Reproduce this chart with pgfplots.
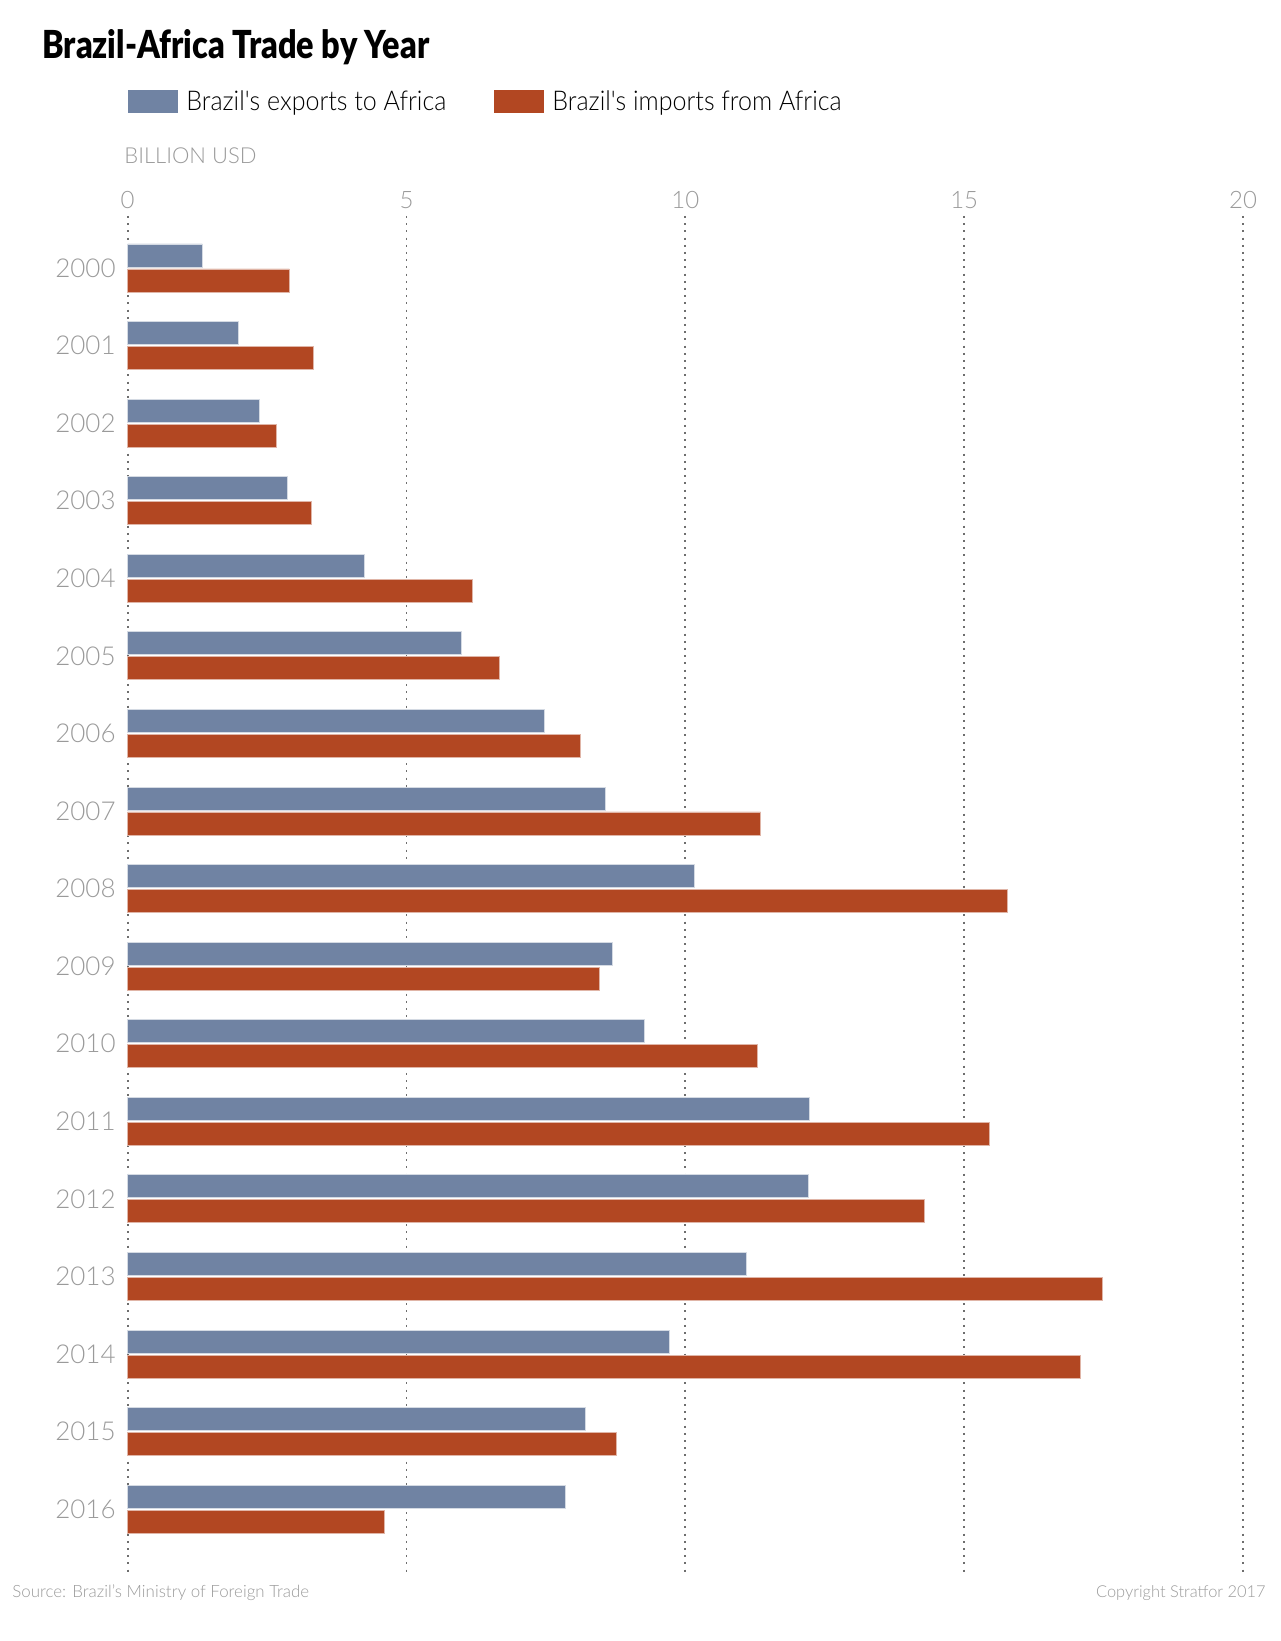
\documentclass[border=0pt]{standalone}
\usepackage{pgfplots}
\pgfplotsset{compat=1.18}
\usepackage{pgfplotstable}
\usepackage{fontspec}
\setmainfont{Lato}[UprightFont={* Light}, BoldFont={* Bold}]
\newfontfamily\titlefont{Lato}[UprightFont={* Black}, FakeStretch=0.84]
\newfontfamily\legfont{Lato}[UprightFont={* Light}, FakeStretch=0.92]

\definecolor{expcol}{HTML}{7083A3}
\definecolor{impcol}{HTML}{B24722}
\definecolor{lblgray}{HTML}{9A9A9A}
\definecolor{gridgray}{HTML}{6E6E6E}

% Brazil-Africa trade, billion USD
\pgfplotstableread{
year exports imports
2000 1.34 2.90
2001 1.98 3.33
2002 2.36 2.67
2003 2.86 3.29
2004 4.24 6.19
2005 5.98 6.66
2006 7.47 8.12
2007 8.57 11.35
2008 10.17 15.78
2009 8.69 8.46
2010 9.27 11.29
2011 12.23 15.46
2012 12.21 14.28
2013 11.09 17.47
2014 9.72 17.09
2015 8.20 8.76
2016 7.84 4.60
}\trade

\begin{document}
\begin{tikzpicture}[x=1pt,y=1pt]
\path[use as bounding box] (0,0) rectangle (640,820.5);

% title and legend
\node[anchor=base west,inner sep=0pt] at (21,791) {\titlefont\fontsize{19.3}{21}\selectfont Brazil-Africa Trade by Year};
\fill[expcol] (64,764) rectangle (89,775.5);
\node[anchor=base west,inner sep=0pt] at (93,765) {\legfont\fontsize{13.6}{15}\selectfont Brazil's exports to Africa};
\fill[impcol] (247,764) rectangle (272,775.5);
\node[anchor=base west,inner sep=0pt] at (276,765) {\legfont\fontsize{13.6}{15}\selectfont Brazil's imports from Africa};
\node[anchor=base west,inner sep=0pt,text=lblgray] at (62,738.5) {\fontsize{11}{13}\selectfont BILLION USD};

\begin{axis}[
  at={(63.85pt,712.5pt)}, anchor=north west,
  scale only axis, width=557.65pt, height=678pt,
  xmin=0, xmax=20,
  ymin=-0.67, ymax=16.81, y dir=reverse,
  axis line style={draw=none},
  xtick={0,5,10,15,20},
  xticklabel pos=upper,
  major tick length=0pt,
  xmajorgrids,
  grid style={gridgray, line width=0.9pt, dash pattern=on 1pt off 2.6pt},
  ytick={0,...,16},
  yticklabels={2000,2001,2002,2003,2004,2005,2006,2007,2008,2009,2010,2011,2012,2013,2014,2015,2016},
  yticklabel style={text=lblgray, font=\fontsize{13}{15}\selectfont, xshift=-2.5pt},
  xticklabel style={text=lblgray, font=\fontsize{12}{14}\selectfont},
  /pgf/number format/assume math mode=true,
  clip=false,
]
\addplot[xbar, bar width=11.5pt, bar shift=0pt, fill=expcol, draw=white!70!expcol, line width=0.4pt]
  table[x=exports, y expr=\coordindex-0.161] {\trade};
\addplot[xbar, bar width=11.5pt, bar shift=0pt, fill=impcol, draw=white!60!impcol, line width=0.4pt]
  table[x=imports, y expr=\coordindex+0.161] {\trade};
\end{axis}

% footer
\node[anchor=base west,inner sep=0pt,text=lblgray] at (6,21.5) {\fontsize{8.45}{10}\selectfont Source: Brazil's Ministry of Foreign Trade};
\node[anchor=base east,inner sep=0pt,text=lblgray] at (633,21.5) {\fontsize{8.2}{10}\selectfont Copyright Stratfor 2017};
\end{tikzpicture}
\end{document}
